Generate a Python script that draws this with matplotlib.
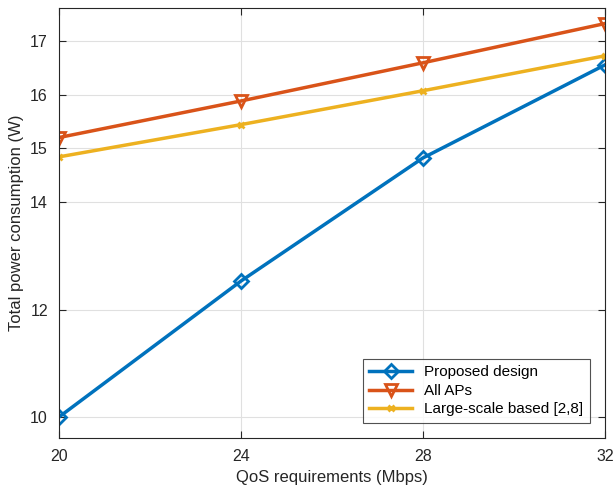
import matplotlib
matplotlib.use("Agg")
import matplotlib.pyplot as plt

plt.rcParams['font.family'] = ['Liberation Sans', 'DejaVu Sans']

qos = [20, 24, 28, 32]
proposed = [10.0, 12.53, 14.82, 16.55]
all_aps = [15.2, 15.88, 16.59, 17.32]
large_scale = [14.84, 15.44, 16.07, 16.72]
yticks = [10, 12, 14, 15, 16, 17]

fig = plt.figure(figsize=(6.14, 4.93), dpi=100)
ax = fig.add_axes([0.0961, 0.1116, 0.889, 0.8722])

ax.plot(qos, proposed, color='#0072BD', lw=2.5, marker='D', ms=7, mfc='none', mew=2,
        label='Proposed design')
ax.plot(qos, all_aps, color='#D95319', lw=2.5, marker='v', ms=9, mfc='none', mew=2,
        label='All APs')
ax.plot(qos, large_scale, color='#EDB120', lw=2.5, marker='x', ms=5, mew=2,
        label='Large-scale based [2,8]')

ax.set_xlim(20, 32)
ax.set_ylim(9.61, 17.61)
ax.set_xticks(qos)
ax.set_yticks(yticks)
ax.grid(True, color='#e0e0e0', lw=0.8)
ax.set_axisbelow(True)
ax.tick_params(direction='in', top=True, right=True, labelsize=11.5, colors='#262626',
               length=5, pad=8)
for s in ax.spines.values():
    s.set_color('#262626')
    s.set_linewidth(0.8)
ax.set_xlabel('QoS requirements (Mbps)', fontsize=12, color='#262626')
ax.set_ylabel('Total power consumption (W)', fontsize=12, color='#262626')

leg = ax.legend(loc='lower right', fontsize=11, fancybox=False, edgecolor='#262626',
                handlelength=2.8, borderpad=0.4, labelspacing=0.3,
                bbox_to_anchor=(0.986, 0.018))
leg.get_frame().set_linewidth(0.8)

fig.savefig('out.png', dpi=100)
